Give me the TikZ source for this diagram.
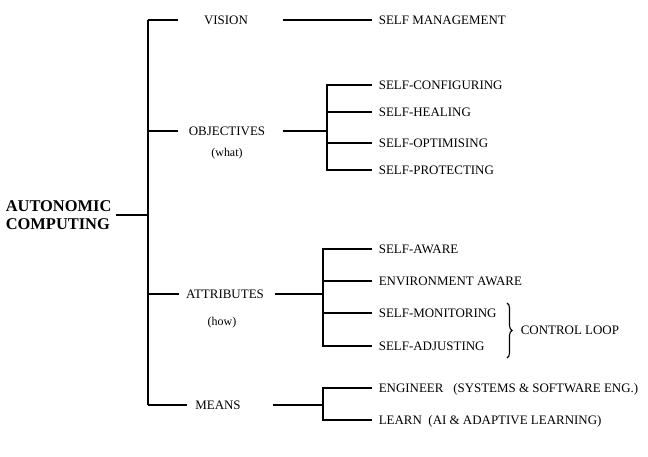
\documentclass[tikz,border=0pt]{standalone}
\usepackage{fontspec}
\setmainfont{Liberation Serif}
\usetikzlibrary{decorations.pathreplacing}

\begin{document}
\begin{tikzpicture}[x=1bp,y=-1bp,line width=1.6bp,
    lbl/.style={inner sep=0pt,text height=9bp,text depth=0pt,font=\fontsize{13}{15}\selectfont},
    leaf/.style={lbl,anchor=west,inner xsep=6bp},
    note/.style={inner sep=0pt,font=\fontsize{12}{14}\selectfont},
    root/.style={anchor=west,align=left,inner sep=0pt,font=\fontsize{16.5}{18}\selectfont\bfseries}]
    \useasboundingbox (0,0) rectangle (648,457);
    % root and trunk
    \node[root] (ac) at (5,215) {AUTONOMIC\\COMPUTING};
    \coordinate (t1) at (148,20);
    \coordinate (t4) at (148,405);
    \draw (t1) -- (t4);
    \draw ([xshift=4bp]ac.east) -- (ac.east -| t1);
    % vision
    \node[lbl] (vis) at (226,20) {VISION};
    \node[leaf] (mgmt) at (372,20) {SELF MANAGEMENT};
    \draw (vis -| t1) -- ([xshift=-25bp]vis.west);
    \draw ([xshift=34bp]vis.east) -- (mgmt.west);
    % objectives
    \node[lbl] (obj) at (227,131) {OBJECTIVES};
    \node[note] (what) at (227,154) {(what)};
    \coordinate (j2) at (327,131);
    \node[leaf] (conf) at (372,85) {SELF-CONFIGURING};
    \node[leaf] (heal) at (372,112) {SELF-HEALING};
    \node[leaf] (opt) at (372,143) {SELF-OPTIMISING};
    \node[leaf] (prot) at (372,170) {SELF-PROTECTING};
    \draw (obj -| t1) -- ([xshift=-10bp]obj.west);
    \draw ([xshift=17bp]obj.east) -- (j2);
    \draw (conf.west) -| (j2 |- prot) -- (prot.west);
    \foreach \n in {heal,opt} \draw (j2 |- \n) -- (\n.west);
    % attributes
    \node[lbl] (attr) at (225,294) {ATTRIBUTES};
    \node[note] (how) at (222,323) {(how)};
    \coordinate (j3) at (323,294);
    \node[leaf] (aware) at (372,249) {SELF-AWARE};
    \node[leaf] (env) at (372,281) {ENVIRONMENT AWARE};
    \node[leaf] (mon) at (372,313) {SELF-MONITORING};
    \node[leaf] (adj) at (372,346) {SELF-ADJUSTING};
    \draw (attr -| t1) -- ([xshift=-6bp]attr.west);
    \draw ([xshift=10bp]attr.east) -- (j3);
    \draw (aware.west) -| (j3 |- adj) -- (adj.west);
    \foreach \n in {env,mon} \draw (j3 |- \n) -- (\n.west);
    % control loop
    \coordinate (b1) at (507,303);
    \coordinate (b2) at (507,358);
    \draw[line width=1.1bp,decorate,decoration={brace,amplitude=5bp}] (b1) -- (b2);
    \node[lbl,anchor=west] (loop) at (520,330) {CONTROL LOOP};
    % means
    \node[lbl] (means) at (218,405) {MEANS};
    \coordinate (j4) at (323,405);
    \node[leaf] (eng) at (372,388) {ENGINEER\ \ \ (SYSTEMS \& SOFTWARE ENG.)};
    \node[leaf] (learn) at (372,420) {LEARN\ \ (AI \& ADAPTIVE LEARNING)};
    \draw (t4) -- ([xshift=-8bp]means.west);
    \draw ([xshift=32bp]means.east) -- (j4);
    \draw (eng.west) -| (j4 |- learn) -- (learn.west);
\end{tikzpicture}
\end{document}
